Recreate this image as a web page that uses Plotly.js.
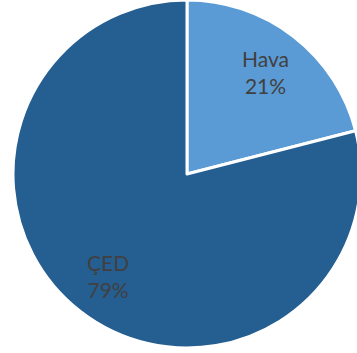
<!DOCTYPE html>
<html><head><meta charset="utf-8">
<script src="https://cdn.plot.ly/plotly-3.0.1.min.js"></script>
<style>html,body{margin:0;padding:0;overflow:hidden;background:#fff;width:357px;height:353px}</style>
</head><body><div id="chart"></div>
<script>
const labels = ["Hava", "ÇED"];
const values = [21, 79];
const colors = ["#5b9bd5", "#255e91"];

const W = 374, H = 353;
const dom = {x: [0, 1], y: [0.0142, 1.0]};

const trace = {
  type: "pie",
  labels: labels,
  values: values,
  sort: false,
  direction: "clockwise",
  rotation: 0,
  marker: {colors: colors, line: {color: "#ffffff", width: 3}},
  textinfo: "none",
  hoverinfo: "none",
  showlegend: false,
  domain: dom
};

// label placement derived from the data (mid-angle of each slice)
const total = values.reduce((a, b) => a + b, 0);
const cx = (dom.x[0] + dom.x[1]) / 2 * W;
const cy = H - (dom.y[0] + dom.y[1]) / 2 * H;
const R = Math.min((dom.x[1] - dom.x[0]) * W, (dom.y[1] - dom.y[0]) * H) / 2;
let cum = 0;
const annotations = values.map((v, i) => {
  const mid = (cum + v / 2) / total * 2 * Math.PI;
  cum += v;
  const r = 0.74 * R;
  const px = cx + r * Math.sin(mid);
  const py = cy - r * Math.cos(mid);
  return {
    xref: "paper", yref: "paper",
    x: px / W, y: 1 - py / H,
    xanchor: "center", yanchor: "middle",
    text: labels[i] + "<br>" + Math.round(v / total * 100) + "%",
    showarrow: false,
    font: {family: "Lato, 'Open Sans', sans-serif", size: 21, color: "#404040"}
  };
});

Plotly.newPlot("chart", [trace], {
  width: W, height: H,
  margin: {l: 0, r: 0, t: 0, b: 0},
  paper_bgcolor: "#ffffff",
  showlegend: false,
  annotations: annotations
}, {staticPlot: true});
</script></body></html>
